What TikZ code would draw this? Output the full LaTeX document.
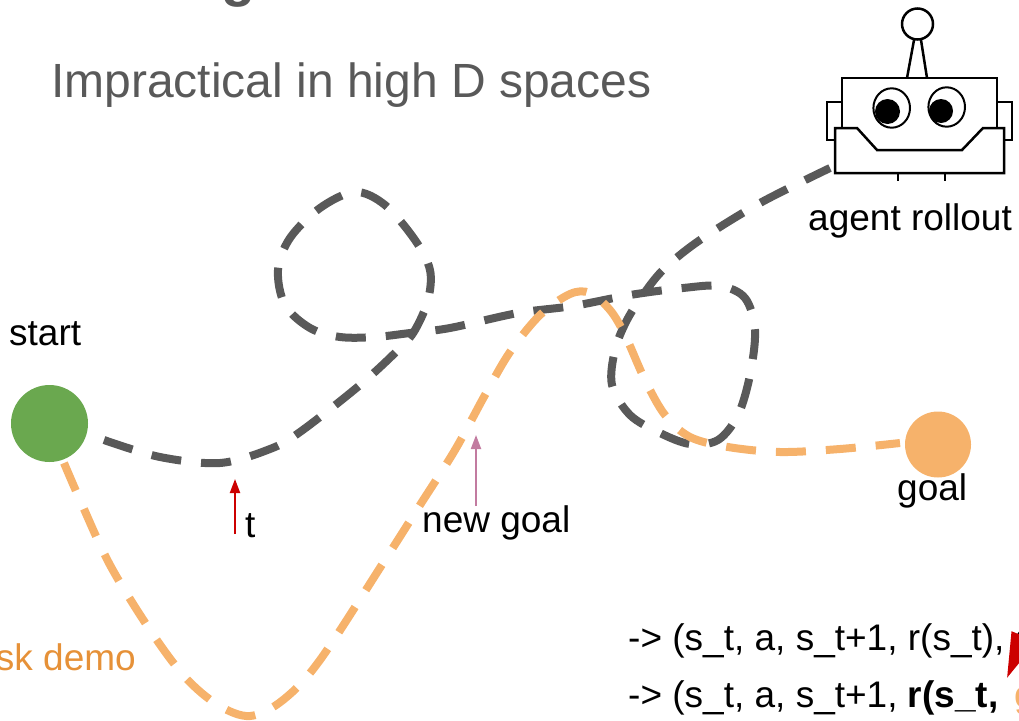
\documentclass[tikz,border=0pt]{standalone}
\usepackage{fontspec}
\setmainfont{Liberation Sans}
\usetikzlibrary{arrows.meta}

\definecolor{traj}{HTML}{595959}
\definecolor{demo}{HTML}{F6B26B}
\definecolor{demotext}{HTML}{E69138}
\definecolor{startgreen}{HTML}{6AA84F}
\definecolor{arrowred}{HTML}{CC0000}
\definecolor{goalpink}{HTML}{C27BA0}
\definecolor{titlegray}{HTML}{595959}

\begin{document}
\begin{tikzpicture}[x=1pt,y=-1pt,
  lbl/.style={inner sep=0pt, anchor=base west, font=\fontsize{37}{44}\selectfont},
  rollout/.style={draw=traj, line width=8pt, dash pattern=on 30pt off 20pt},
  demopath/.style={draw=demo, line width=8pt, dash pattern=on 30pt off 20pt},
  robotline/.style={draw=black, line width=2.5pt, fill=white},
  pointer/.style={line width=2pt, -{Triangle[length=14pt,width=10pt]}},
  dot/.style={circle, inner sep=0pt, draw=none},
]
\useasboundingbox (0,0) rectangle (1019,720);

% heading (only the descender reaches into view) and subtitle
\node[inner sep=0pt, anchor=base, text=titlegray,
      font=\fontsize{56}{60}\selectfont\bfseries] (head) at (239,-5) {g};
\node[lbl, text=titlegray, font=\fontsize{48}{58}\selectfont] (title) at (51,97)
  {Impractical in high D spaces};

% agent rollout trajectory
\draw[rollout] plot[smooth, tension=0.55] coordinates {
  (104,440) (160,457) (220,463) (270,449) (300,432) (360,385) (400,348)
  (415,330) (428,300) (430,270) (415,240) (385,205) (355,192) (320,208)
  (290,238) (278,270) (285,305) (310,328) (340,337) (375,337) (410,333)
  (450,328) (518,313) (573,306) (630,295) (683,288) (720,286) (745,298)
  (755,330) (750,375) (738,415) (718,440) (690,444) (660,433) (630,415)
  (612,385) (615,350) (627,320) (645,292) (665,268) (700,240) (760,203)
  (830,168)};

% task demonstration trajectory
\draw[demopath] plot[smooth, tension=0.55] coordinates {
  (64,463) (80,500) (110,565) (150,630) (185,677) (218,705) (250,716)
  (283,700) (320,660) (385,560) (420,505) (455,450) (485,395) (510,352)
  (540,315) (570,294) (590,293) (610,310) (625,335) (645,380) (665,415)
  (690,437) (728,447) (780,452) (840,449) (900,443)};

% start and goal states
\node[dot, fill=startgreen, minimum size=77pt] (start) at (49.5,423.5) {};
\node[dot, fill=demo, minimum size=66pt] (goal) at (938,444.5) {};

% robot
\draw[robotline] (917.5,24) circle[radius=15.5];
\draw[black, line width=2.5pt] (914,40) -- (907,78) (921,40) -- (927,78);
\draw[robotline] (827,102) rectangle (842,140);
\draw[robotline] (997,102) rectangle (1012,140);
\draw[robotline] (842,78) rectangle (997,150);
\draw[black, line width=2pt, fill=white] (891.7,108) ellipse[x radius=18.3, y radius=19.7];
\draw[black, line width=2pt, fill=white] (946.7,107) ellipse[x radius=18.3, y radius=19.7];
\fill[black] (887.5,111.5) circle[radius=12.5];
\fill[black] (941,111) circle[radius=12];
\draw[robotline] (835,128) -- (857,128) -- (877,150) -- (962,150) -- (983,128)
  -- (1004,128) -- (1004,173) -- (835,173) -- cycle;
\draw[black, line width=2.5pt] (898,173) -- (898,181) (945,173) -- (945,181);

% labels
\node[lbl] (startlbl) at (9,345) {start};
\node[lbl] (agentlbl) at (808,230) {agent rollout};
\node[lbl] (goallbl) at (897,500) {goal};
\node[lbl] (tlbl) at (245,537) {t};
\node[lbl] (newgoal) at (422,532) {new goal};
\node[inner sep=0pt, anchor=base east, font=\fontsize{37}{44}\selectfont,
      text=demotext] (demolbl) at (136,670) {sk demo};

% pointers
\coordinate (tfoot) at (235,534);
\coordinate (ttip) at (235,479);
\draw[pointer, arrowred] (tfoot) -- (ttip);
\coordinate (ngfoot) at (476,506);
\coordinate (ngtip) at (476,435);
\draw[pointer, goalpink] (ngfoot) -- (ngtip);

% transition tuples
\node[lbl] (tup1) at (628,650) {-> (s\_t, a, s\_t+1, r(s\_t), g};
\node[lbl] (tup2) at (628,707)
  {-> (s\_t, a, s\_t+1, \textbf{r(s\_t,}\hspace{16pt}\textcolor{demo}{\textbf{g}}};

% relabelling arrow
\coordinate (relabel) at (1048,578);
\coordinate (relabeltip) at (1007,678);
\draw[arrowred, line width=4pt, -{Triangle[length=45pt,width=26pt]}] (relabel) -- (relabeltip);
\end{tikzpicture}
\end{document}
